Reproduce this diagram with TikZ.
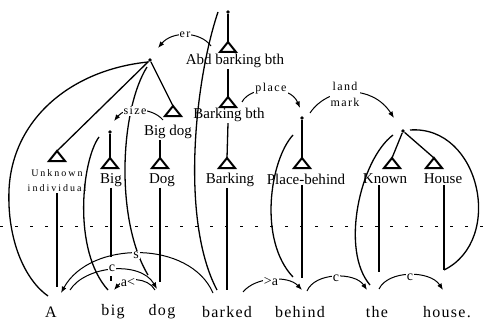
\documentclass[tikz,border=0pt]{standalone}
\usepackage{fontspec}
\setmainfont{Liberation Serif}
\usetikzlibrary{arrows.meta}
\begin{document}
\begin{tikzpicture}[x=1pt,y=-1pt,
 ln/.style={line width=1.3pt},
 arr/.style={line width=1pt,-{Latex[length=6.5pt,width=5pt]}},
 lab/.style={font=\fontsize{15}{15}\selectfont, inner sep=1pt},
 word/.style={font=\fontsize{16}{16}\selectfont\addfontfeature{LetterSpace=8}, inner sep=1pt},
 small/.style={font=\fontsize{12}{16}\selectfont\addfontfeature{LetterSpace=12}, inner sep=1pt, fill=white, align=center},
 lsmall/.style={font=\fontsize{14}{14}\selectfont, inner sep=1pt, fill=white},
 unk/.style={font=\fontsize{10}{15}\selectfont\addfontfeature{LetterSpace=20}, inner sep=1pt, align=center},
 dot/.style={circle, fill, inner sep=0pt, minimum size=3.8pt},
 tri/.pic={\draw[line width=2pt] (0,0) -- (-8,10) -- (8,10) -- cycle;}
]
\useasboundingbox (0,0) rectangle (486,326);
\fill[white] (0,0) rectangle (486,326);

% dots
\node[dot] (top) at (228,12) {};
\node[dot] (bd) at (150,60) {};
\node[dot] (bigd) at (110,132) {};
\node[dot] (pl) at (302,118) {};
\node[dot] (lm) at (403,131) {};

% triangle apices
\coordinate (tabd) at (228,42);
\coordinate (tbb) at (228,97);
\coordinate (tbd) at (173,106);
\coordinate (tunk) at (57,151);
\coordinate (tbig) at (110,158);
\coordinate (tdog) at (160,158);
\coordinate (tbark) at (227,158);
\coordinate (tpl) at (302,158);
\coordinate (tkn) at (392,158);
\coordinate (tho) at (434,158);

% labels
\node[lab] (labd) at (235,61) {Abd barking bth};
\node[lab] (lbb) at (229,115) {Barking bth};
\node[lab] (lbd) at (168,132) {Big dog};
\node[unk] (lunk) at (57,181) {Unknown\\individual};
\node[lab] (lbig) at (111,180) {Big};
\node[lab] (ldog) at (162,180) {Dog};
\node[lab] (lbark) at (230,180) {Barking};
\node[lab] (lpl) at (306,179) {Place-behind};
\node[lab] (lkn) at (385,179) {Known};
\node[lab] (lho) at (443,179) {House};

% words
\node[word] (wA) at (51,312) {A};
\node[word] (wbig) at (113,312) {big};
\node[word] (wdog) at (162,312) {dog};
\node[word] (wbarked) at (227,312) {barked};
\node[word] (wbehind) at (300,312) {behind};
\node[word] (wthe) at (377,312) {the};
\node[word] (whouse) at (447,312) {house.};

% tree lines
\draw[ln] (top) -- (tabd);
\draw[ln] (labd.south -| tabd) -- (tbb);
\draw[ln] (lbb.south -| tbb) -- (tbark);
\draw[ln] (bd) -- (tunk);
\draw[ln] (bd) -- (tbd);
\draw[ln] (lbd.south -| tdog) -- (tdog);
\draw[ln] (bigd) -- (tbig);
\draw[ln] (pl) -- (tpl);
\draw[ln] (lm) -- (tkn);
\draw[ln] (lm) -- (tho);

\foreach \t in {tabd,tbb,tbd,tunk,tbig,tdog,tbark,tpl,tkn,tho} {\pic at (\t) {tri};}

% lower verticals
\coordinate (vunk) at (57,287);
\coordinate (vbig) at (111,257);
\coordinate (vbig1) at (111,276);
\coordinate (vbig2) at (111,281);
\coordinate (vdog) at (160,282);
\coordinate (vbark) at (227,290);
\coordinate (vpl) at (302,278);
\coordinate (vkn) at (379,272);
\coordinate (vho) at (444,270);
\draw[ln] (lunk.south) -- (vunk);
\draw[ln] (lbig.south -| vbig) -- (vbig);
\draw[ln] (vbig1) -- (vbig2);
\draw[ln] (ldog.south -| vdog) -- (vdog);
\draw[ln] (lbark.south -| vbark) -- (vbark);
\draw[ln] (lpl.south -| vpl) -- (vpl);
\draw[ln] (lkn.south -| vkn) -- (vkn);
\draw[ln] (lho.south -| vho) -- (vho);

% dashed divider
\coordinate (dl) at (0,226);
\coordinate (dr) at (486,226);
\draw[line width=0.8pt, dash pattern=on 3pt off 12pt] (dl) -- (dr);

% long curves
\coordinate (c1a) at (148,62);
\coordinate (c1b) at (48,296);
\draw[ln] (c1a) .. controls (70,70) and (12,120) .. (9,190) .. controls (7,240) and (25,280) .. (c1b);
\coordinate (c2a) at (147,67);
\coordinate (c2b) at (148,275);
\draw[ln] (c2a) .. controls (120,110) and (115,220) .. (c2b);
\coordinate (c3a) at (99,137);
\coordinate (c3b) at (108,290);
\draw[ln] (c3a) .. controls (82,160) and (72,250) .. (c3b);
\coordinate (c4a) at (218,12);
\coordinate (c4b) at (217,290);
\draw[ln] (c4a) .. controls (195,80) and (180,220) .. (c4b);
\coordinate (c5a) at (293,135);
\coordinate (c5b) at (293,277);
\draw[ln] (c5a) .. controls (270,160) and (258,240) .. (c5b);
\coordinate (c6a) at (393,135);
\coordinate (c6b) at (370,285);
\draw[ln] (c6a) .. controls (360,160) and (340,250) .. (c6b);
\coordinate (c7a) at (410,130);
\draw[ln] (c7a) .. controls (480,125) and (505,240) .. (vho);

% role arrows (upper)
\coordinate (er0) at (211,46);
\coordinate (er1) at (158,48);
\draw[arr] (er0) .. controls (200,31) and (172,31) .. (er1);
\node[small] (erl) at (185,35) {er};
\coordinate (sz0) at (163,120);
\coordinate (sz1) at (114,121);
\draw[arr] (sz0) .. controls (152,107) and (125,107) .. (sz1);
\node[small] (szl) at (135,111) {size};
\coordinate (pc0) at (242,102);
\coordinate (pc1) at (300,108);
\draw[arr] (pc0) .. controls (250,86) and (290,84) .. (pc1);
\node[small] (pcl) at (271,89) {place};
\coordinate (lk0) at (310,113);
\coordinate (lk1) at (394,118);
\draw[arr] (lk0) .. controls (328,86) and (372,84) .. (lk1);
\node[small] (lkl) at (345,94) {land\\mark};

% word-level arcs
\coordinate (s0) at (213,293);
\coordinate (s1) at (61,293);
\draw[arr] (s0) .. controls (190,240) and (90,240) .. (s1);
\node[lsmall] (sl) at (136,255) {s};
\coordinate (cA0) at (70,290);
\coordinate (cA1) at (157,289);
\draw[arr] (cA0) .. controls (85,266) and (140,260) .. (cA1);
\node[lsmall] (cAl) at (112,268) {c};
\coordinate (a0) at (155,290);
\coordinate (a1) at (114,290);
\draw[arr] (a0) .. controls (148,277) and (125,277) .. (a1);
\node[lsmall] (al) at (128,283) {a<};
\coordinate (b0) at (243,292);
\coordinate (b1) at (302,290);
\draw[arr] (b0) .. controls (255,277) and (288,275) .. (b1);
\node[lsmall] (bl) at (271,282) {>a};
\coordinate (d0) at (307,291);
\coordinate (d1) at (367,290);
\draw[arr] (d0) .. controls (315,272) and (355,272) .. (d1);
\node[lsmall] (dl2) at (336,278) {c};
\coordinate (e0) at (379,289);
\coordinate (e1) at (443,290);
\draw[arr] (e0) .. controls (388,270) and (430,270) .. (e1);
\node[lsmall] (el) at (410,277) {c};
\end{tikzpicture}
\end{document}
